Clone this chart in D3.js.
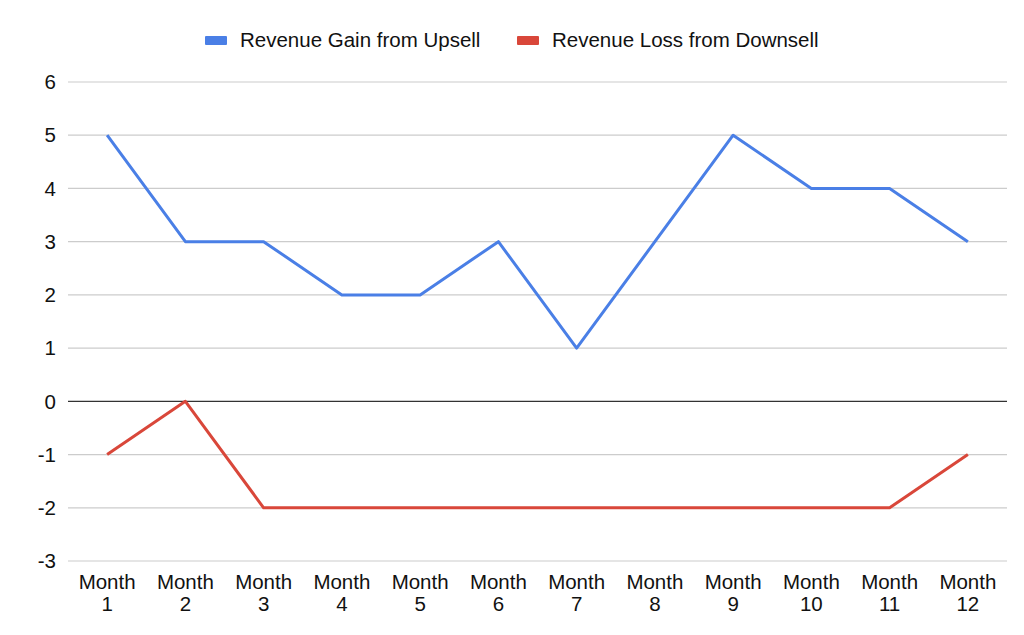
<!DOCTYPE html>
<html>
<head>
<meta charset="utf-8">
<script src="https://cdn.jsdelivr.net/npm/d3@7"></script>
<style>
  body { margin: 0; background: #fff; }
  text { font-family: "Liberation Sans", Arial, sans-serif; fill: #111; }
</style>
</head>
<body>
<div id="chart"></div>
<script>
// data
var months = ["1", "2", "3", "4", "5", "6", "7", "8", "9", "10", "11", "12"];
var upsell = [5, 3, 3, 2, 2, 3, 1, 3, 5, 4, 4, 3];
var downsell = [-1, 0, -2, -2, -2, -2, -2, -2, -2, -2, -2, -1];
var yTicks = [-3, -2, -1, 0, 1, 2, 3, 4, 5, 6];
var seriesNames = ["Revenue Gain from Upsell", "Revenue Loss from Downsell"];
var seriesColors = ["#4a7fe6", "#d9473a"];

var width = 1024, height = 635;
var margin = {top: 82, right: 17, bottom: 74, left: 68};

var svg = d3.select("#chart").append("svg")
	.attr("width", width)
	.attr("height", height);

var x = d3.scalePoint()
	.domain(months)
	.range([margin.left, width - margin.right])
	.padding(0.5);

var y = d3.scaleLinear()
	.domain([-3, 6])
	.range([height - margin.bottom, margin.top]);

// gridlines
svg.append("g").selectAll("line")
	.data(yTicks)
	.enter().append("line")
	.attr("x1", margin.left)
	.attr("x2", width - margin.right)
	.attr("y1", function(d) { return y(d); })
	.attr("y2", function(d) { return y(d); })
	.attr("stroke", function(d) { return d === 0 ? "#333" : "#ccc"; })
	.attr("stroke-width", 1.2);

// y axis labels
svg.append("g").selectAll("text")
	.data(yTicks)
	.enter().append("text")
	.attr("x", 56)
	.attr("y", function(d) { return y(d); })
	.attr("dy", "0.35em")
	.attr("text-anchor", "end")
	.style("font-size", "20.5px")
	.text(function(d) { return d; });

// x axis labels (two lines)
var xl = svg.append("g").selectAll("text")
	.data(months)
	.enter().append("text")
	.attr("text-anchor", "middle")
	.style("font-size", "20.5px");
xl.append("tspan")
	.attr("x", function(d) { return x(d); })
	.attr("y", 589)
	.text("Month");
xl.append("tspan")
	.attr("x", function(d) { return x(d); })
	.attr("y", 611)
	.text(function(d) { return d; });

// lines
var line = d3.line()
	.x(function(d, i) { return x(months[i]); })
	.y(function(d) { return y(d); });

[upsell, downsell].forEach(function(s, i) {
	svg.append("path")
		.datum(s)
		.attr("d", line)
		.attr("fill", "none")
		.attr("stroke", seriesColors[i])
		.attr("stroke-width", 3)
		.attr("stroke-linejoin", "round");
});

// legend
var legendX = [205, 517];
var lg = svg.append("g").selectAll("g")
	.data(seriesNames)
	.enter().append("g")
	.attr("transform", function(d, i) { return "translate(" + legendX[i] + ",40)"; });
lg.append("rect")
	.attr("x", 0)
	.attr("y", -4)
	.attr("width", 22)
	.attr("height", 9)
	.attr("rx", 1)
	.attr("fill", function(d, i) { return seriesColors[i]; });
lg.append("text")
	.attr("x", 35)
	.attr("y", 0)
	.attr("dy", "0.35em")
	.style("font-size", "20.5px")
	.text(function(d) { return d; });
</script>
</body>
</html>
